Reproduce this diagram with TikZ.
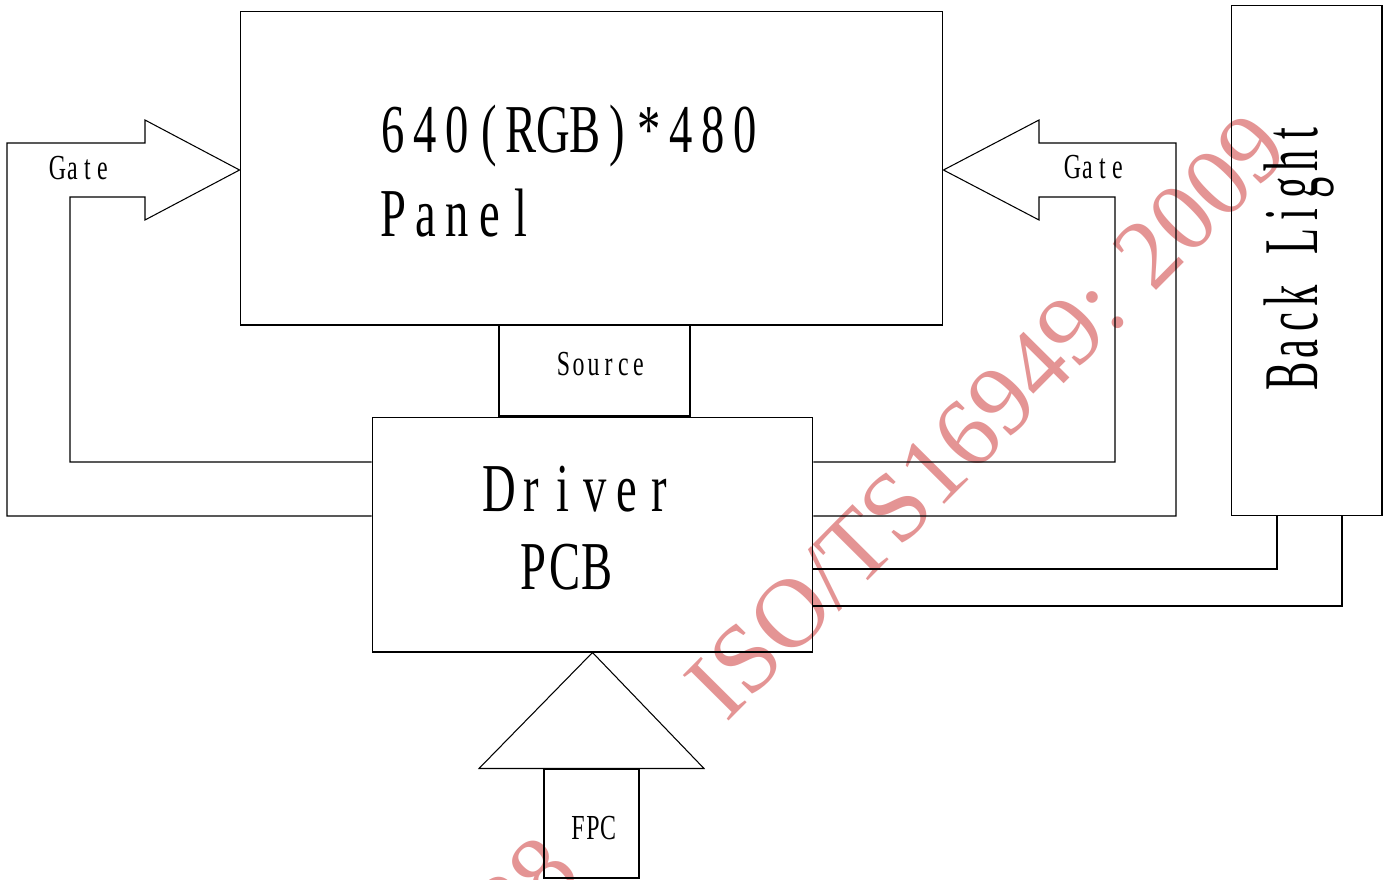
\documentclass[tikz,border=0pt]{standalone}
\usepackage{fontspec}
\setmainfont{Liberation Serif}
\newfontfamily\halfwidth[FakeStretch=0.68]{Liberation Serif}
\newfontfamily\halfnarrow[FakeStretch=0.55]{Liberation Serif}
\usepackage{tikz}
\definecolor{wmred}{RGB}{228,148,148}
% every letter in a cell of the same width
\newcommand\pitched[2]{\def\pitchw{#1}\pitchedloop#2\relax}
\newcommand\pitchedloop[1]{\ifx\relax#1\else\makebox[\pitchw]{#1}\expandafter\pitchedloop\fi}

\begin{document}
\begin{tikzpicture}[x=0.02cm,y=-0.02cm,line width=0.6pt,box/.style={draw,inner sep=0pt},big/.style={inner sep=0pt,font=\fontsize{39}{39}\selectfont\halfwidth},small/.style={inner sep=0pt,font=\fontsize{20}{20}\selectfont\halfwidth},watermark/.style={inner sep=0pt,rotate=45.2,text=wmred,font=\fontsize{56}{56}\selectfont}]
\path[fill=white,use as bounding box] (0,0) rectangle (1389,879);
% stamp
\node[watermark,anchor=base west] (stamp) at (726,724) {ISO/TS16949: 2009};
\node[watermark,anchor=base east] (stampdate) at (584,876) {28};
% blocks
\node[box,minimum width=14.06cm,minimum height=6.28cm] (panel) at (591.5,168) {};
\node[box,minimum width=3.82cm,minimum height=1.82cm] (source) at (594.5,370.5) {};
\node[box,minimum width=8.82cm,minimum height=4.7cm] (driver) at (592.5,534.5) {};
\node[box,minimum width=3.02cm,minimum height=10.22cm] (backlight) at (1306.5,260.5) {};
\node[box,minimum width=1.9cm,minimum height=2.18cm] (fpc) at (591.5,823.5) {};
% labels
\node[big,anchor=base west] (resolution) at (377,152) {\pitched{0.64cm}{640(RGB)*480}};
\node[big,anchor=base west] (paneltext) at (377,236) {\pitched{0.64cm}{Panel}};
\node[big,anchor=base] (drivertext) at (579,511) {\pitched{0.64cm}{Driver}};
\node[big,anchor=base] (pcbtext) at (565,589) {\pitched{0.64cm}{PCB}};
\node[small,anchor=base] (gateleft) at (80,179) {\pitched{0.3cm}{Gate}};
\node[small,anchor=base] (gateright) at (1095,178) {\pitched{0.3cm}{Gate}};
\node[small,anchor=base] (sourcetext) at (601,375) {\pitched{0.3cm}{Source}};
\node[small,anchor=base] (fpctext) at (593,839) {\pitched{0.3cm}{FPC}};
\node[inner sep=0pt,rotate=90,anchor=base,font=\fontsize{44}{44}\selectfont\halfnarrow] (backlighttext) at (1317,255) {\pitched{0.54cm}{Back~Light}};
% gate arrows
\draw (driver.west |- 0,516) -- (7,516) -- (7,143) -- (145,143) -- (145,120) -- (panel.west |- 0,170) -- (145,220) -- (145,197) -- (70,197) -- (70,462) -- (driver.west |- 0,462);
\draw (driver.east |- 0,516) -- (1176,516) -- (1176,143) -- (1039,143) -- (1039,120) -- (panel.east |- 0,170) -- (1039,220) -- (1039,197) -- (1115,197) -- (1115,462) -- (driver.east |- 0,462);
% back light supply
\draw (driver.east |- 0,569) -| (1277,0 |- backlight.south);
\draw (driver.east |- 0,606) -| (1342,0 |- backlight.south);
% fpc input
\draw (fpc.north -| 479,0) -- (driver.south) -- (fpc.north -| 704,0) -- cycle;
\end{tikzpicture}
\end{document}
